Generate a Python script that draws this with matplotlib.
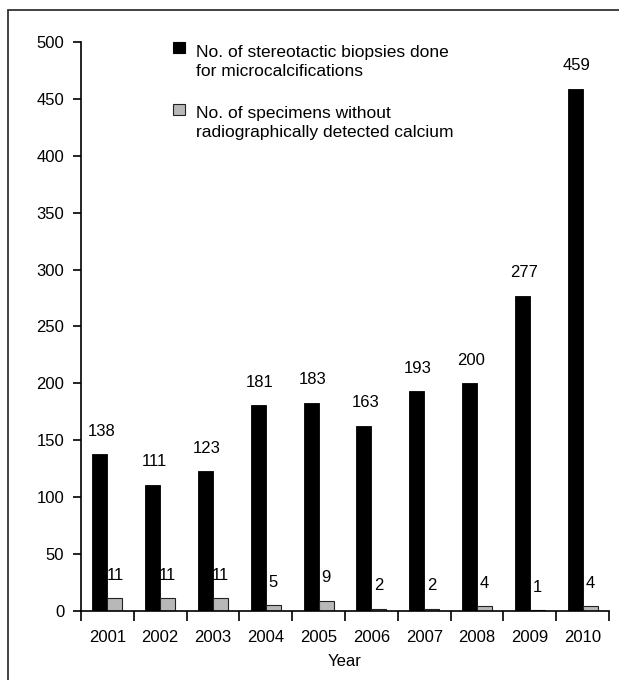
import matplotlib
matplotlib.use('Agg')
import matplotlib.pyplot as plt
from matplotlib.patches import Rectangle
import numpy as np

plt.rcParams['font.family'] = ['Liberation Sans', 'DejaVu Sans']

years = ['2001', '2002', '2003', '2004', '2005', '2006', '2007', '2008', '2009', '2010']
biopsies = [138, 111, 123, 181, 183, 163, 193, 200, 277, 459]
no_calcium = [11, 11, 11, 5, 9, 2, 2, 4, 1, 4]

legend_lines = [['No. of stereotactic biopsies done', 'for microcalcifications'],
                ['No. of specimens without', 'radiographically detected calcium']]
black = 'black'
grey = '#b8b8b8'

W, H = 619, 680
fig = plt.figure(figsize=(W / 100, H / 100), dpi=100)
ax = fig.add_axes([81 / W, 1 - 611 / H, 528 / W, 569 / H])

x = np.arange(len(years))
w = 0.285
ax.bar(x - w / 2, biopsies, w, color=black, edgecolor=black, linewidth=0.6)
ax.bar(x + w / 2, no_calcium, w, color=grey, edgecolor='#222222', linewidth=0.8)

# value labels above the bars
for xi, v in zip(x, biopsies):
    ax.annotate(str(v), (xi - w / 2, v), xytext=(1, 11), textcoords='offset points',
                ha='center', va='bottom', fontsize=12)
for xi, v in zip(x, no_calcium):
    ax.annotate(str(v), (xi + w / 2, v), xytext=(0, 11), textcoords='offset points',
                ha='center', va='bottom', fontsize=12)

ax.set_xlim(-0.5, len(years) - 0.5)
ax.set_ylim(0, 500)
ax.set_yticks(range(0, 501, 50))
ax.set_xticks(x)
ax.set_xticklabels(years)
ax.set_xticks(np.arange(-0.5, len(years)), minor=True)
ax.tick_params(axis='x', which='major', length=0, labelsize=12, pad=14)
ax.tick_params(axis='x', which='minor', length=7, width=1.2, direction='out')
ax.tick_params(axis='y', length=6, width=1.2, labelsize=12, pad=6)
ax.spines['top'].set_visible(False)
ax.spines['right'].set_visible(False)
ax.spines['left'].set_linewidth(1.2)
ax.spines['bottom'].set_linewidth(1.2)
ax.set_xlabel('Year', fontsize=12, labelpad=6)

# legend drawn by hand: square marker + two text lines per entry
for (face, edge), lines, sq_top, base in zip([(black, black), (grey, '#222222')],
                                             legend_lines, [42, 104], [57, 118]):
    fig.patches.append(Rectangle((173 / W, 1 - (sq_top + 11) / H), 12 / W, 11 / H,
                                 transform=fig.transFigure, facecolor=face,
                                 edgecolor=edge, linewidth=0.8))
    for k, line in enumerate(lines):
        fig.text(196 / W, 1 - (base + 19.5 * k) / H, line, fontsize=12.5,
                 va='baseline', ha='left')

# frame around the figure
fig.patches.append(Rectangle((8 / W, -0.1), 1.2, 1 - 10 / H + 0.1,
                             transform=fig.transFigure, fill=False,
                             edgecolor='#333333', linewidth=1.3))

fig.savefig('out.png', dpi=100)
